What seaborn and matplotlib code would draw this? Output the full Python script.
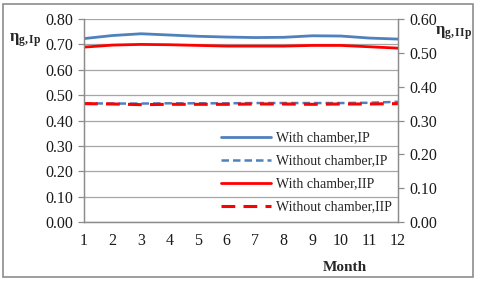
import matplotlib
matplotlib.use("Agg")
import matplotlib.pyplot as plt
import seaborn as sns
import pandas as pd
from matplotlib.patches import Rectangle

months = list(range(1, 13))
with_ip = [0.723, 0.735, 0.742, 0.737, 0.732, 0.729, 0.727, 0.728, 0.734, 0.733, 0.725, 0.721]
without_ip = [0.468, 0.467, 0.467, 0.468, 0.468, 0.468, 0.469, 0.469, 0.469, 0.469, 0.470, 0.474]
with_iip = [0.517, 0.523, 0.525, 0.524, 0.522, 0.520, 0.520, 0.520, 0.522, 0.522, 0.518, 0.514]
without_iip = [0.350, 0.349, 0.347, 0.348, 0.348, 0.348, 0.349, 0.349, 0.348, 0.349, 0.349, 0.350]

sns.set_theme(style="white")
plt.rcParams['font.family'] = ['Liberation Serif', 'DejaVu Serif']
plt.rcParams['mathtext.fontset'] = 'custom'
plt.rcParams['mathtext.rm'] = 'Liberation Serif'
plt.rcParams['mathtext.it'] = 'Liberation Serif:italic'
plt.rcParams['mathtext.bf'] = 'Liberation Serif:bold'

fig = plt.figure(figsize=(4.8, 2.84), dpi=100)
ax = fig.add_axes([0.175, 0.218, 0.654, 0.715])
ax2 = ax.twinx()

blue = "#4F81BD"
red = "#FF0000"

df = pd.DataFrame({"Month": months, "wip": with_ip, "woip": without_ip,
                   "wiip": with_iip, "woiip": without_iip})

sns.lineplot(data=df, x="Month", y="wip", ax=ax, color=blue, lw=2.0, label="With chamber,IP")
sns.lineplot(data=df, x="Month", y="woip", ax=ax, color=blue, lw=1.8, ls=(0, (3, 1.6)), label="Without chamber,IP")
sns.lineplot(data=df, x="Month", y="wiip", ax=ax2, color=red, lw=2.0, label="With chamber,IIP")
sns.lineplot(data=df, x="Month", y="woiip", ax=ax2, color=red, lw=2.2, ls=(0, (4.5, 2.7)), label="Without chamber,IIP")

ax.set_xlim(1, 12)
ax.set_ylim(0, 0.8)
ax2.set_ylim(0, 0.6)
ax.set_xticks(months)
ax.set_yticks([i / 10 for i in range(9)])
ax.set_yticklabels([f"{i/10:.2f}" for i in range(9)])
ax2.set_yticks([i / 10 for i in range(7)])
ax2.set_yticklabels([f"{i/10:.2f}" for i in range(7)])
ax.grid(axis="y", color="#a6a6a6", lw=0.9)
ax.set_axisbelow(True)
ax.set_xlabel("")
ax.set_ylabel("")
ax2.set_ylabel("")

for a in (ax, ax2):
    for s in a.spines.values():
        s.set_color("#8c8c8c")
        s.set_linewidth(0.9)
    a.spines["top"].set_visible(False)
ax.tick_params(axis="both", labelsize=11.5, colors="#1a1a1a", direction="out", length=4, width=0.9)
ax.tick_params(axis="both", color="#8c8c8c")
ax2.tick_params(axis="y", labelsize=11.5, labelcolor="#1a1a1a", direction="out", length=4, width=0.9, color="#8c8c8c")
ax.tick_params(axis="x", pad=4)
ax.tick_params(axis="y", pad=4)
ax2.tick_params(axis="y", pad=4)

h1, l1 = ax.get_legend_handles_labels()
h2, l2 = ax2.get_legend_handles_labels()
if ax.get_legend():
    ax.get_legend().remove()
if ax2.get_legend():
    ax2.get_legend().remove()
leg = ax2.legend(h1 + h2, l1 + l2, loc="lower right", bbox_to_anchor=(1.0, 0.015),
                 frameon=False, fontsize=10, handlelength=3.6, labelspacing=0.72,
                 handletextpad=0.36, borderaxespad=0.0, borderpad=0.4)

fig.text(0.052, 0.859, r"$\mathbf{\eta}_{\mathbf{g,Ip}}$", fontsize=12, ha="center", va="center")
fig.text(0.945, 0.884, r"$\mathbf{\eta}_{\mathbf{g,IIp}}$", fontsize=12, ha="center", va="center")
fig.text(0.718, 0.045, "Month", fontsize=11, fontweight="bold", ha="center")

fig.patches.append(Rectangle((0.006, 0.025), 0.979, 0.96, transform=fig.transFigure,
                             fill=False, edgecolor="#8c8c8c", lw=1.2))

fig.savefig("out.png", dpi=100)
